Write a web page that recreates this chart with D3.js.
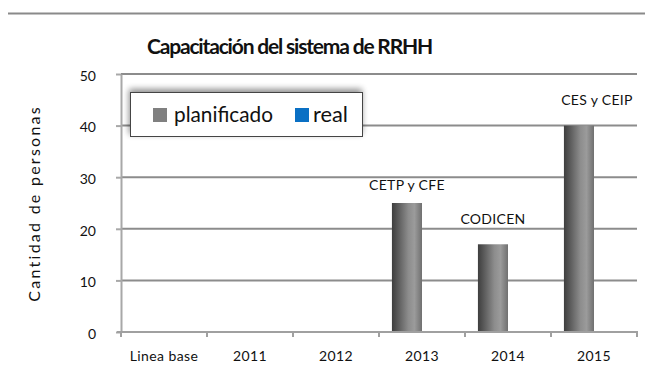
<!DOCTYPE html>
<html>
<head>
<meta charset="utf-8">
<script src="https://cdn.jsdelivr.net/npm/d3@7/dist/d3.min.js"></script>
<style>
  html, body { margin: 0; padding: 0; background: #fff; }
  svg { display: block; font-family: Lato, "Open Sans", sans-serif; }
</style>
</head>
<body>
<svg id="chart" width="645" height="381"></svg>
<script>
// Chart data
const categories = ["Linea base", "2011", "2012", "2013", "2014", "2015"];
const seriesNames = ["planificado", "real"];
const planificado = [0, 0, 0, 25, 17, 40];
const real = [0, 0, 0, 0, 0, 0];
const barLabels = ["", "", "", "CETP y CFE", "CODICEN", "CES y CEIP"];
const yTicks = [0, 10, 20, 30, 40, 50];
const titleText = "Capacitación del sistema de RRHH";
const yAxisTitle = "Cantidad de personas";

const svg = d3.select("#chart");
const W = 645, H = 381;
const plot = { left: 121, right: 637, top: 74, bottom: 332 };

// Adjust letter-spacing so a text node spans a given width
function fitSpacing(sel, target) {
  const node = sel.node();
  const n = sel.text().length;
  const w = node.getComputedTextLength();
  if (w > 0 && n > 1) sel.attr("letter-spacing", ((target - w) / n).toFixed(3));
}
// Scale font-size so a text node spans a given width
function fitSize(sel, target) {
  const node = sel.node();
  const fs = parseFloat(sel.attr("font-size"));
  const w = node.getComputedTextLength();
  if (w > 0) sel.attr("font-size", (fs * target / w).toFixed(2));
}

const defs = svg.append("defs");
const grad = defs.append("linearGradient").attr("id", "barGrad")
  .attr("x1", "0%").attr("x2", "100%").attr("y1", "0%").attr("y2", "0%");
[[0, "#3e3e3e"], [0.18, "#575757"], [0.55, "#8d8d8d"], [0.75, "#9b9b9b"], [1, "#707070"]]
  .forEach(([o, c]) => grad.append("stop").attr("offset", o).attr("stop-color", c));

const shadow = defs.append("filter").attr("id", "legendShadow")
  .attr("x", "-10%").attr("y", "-40%").attr("width", "120%").attr("height", "180%");
shadow.append("feGaussianBlur").attr("in", "SourceAlpha").attr("stdDeviation", 3).attr("result", "b");
shadow.append("feOffset").attr("in", "b").attr("dx", -1).attr("dy", -3).attr("result", "o");
shadow.append("feComponentTransfer").attr("in", "o").attr("result", "s")
  .append("feFuncA").attr("type", "linear").attr("slope", 0.45);
const fm = shadow.append("feMerge");
fm.append("feMergeNode").attr("in", "s");
fm.append("feMergeNode").attr("in", "SourceGraphic");

// Separator rule along the top
svg.append("line")
  .attr("x1", 8).attr("x2", W).attr("y1", 13.5).attr("y2", 13.5)
  .attr("stroke", "#8a8a8a").attr("stroke-width", 2);

// Title
const title = svg.append("text")
  .attr("x", 147).attr("y", 54)
  .attr("font-size", 21).attr("font-weight", "bold").attr("fill", "#111")
  .text(titleText);
fitSpacing(title, 285);

// Scales
const x0 = d3.scaleBand().domain(categories).range([plot.left, plot.right]).padding(0);
const x1 = d3.scaleBand().domain(seriesNames).range([0, x0.bandwidth()])
  .paddingInner(0).paddingOuter(0.43);
const y = d3.scaleLinear().domain([0, 50]).range([plot.bottom, plot.top]);

// Horizontal gridlines
svg.append("g").selectAll("line")
  .data(yTicks.filter(t => t > 0))
  .join("line")
  .attr("x1", plot.left).attr("x2", plot.right)
  .attr("y1", d => y(d)).attr("y2", d => y(d))
  .attr("stroke", "#8c8c8c").attr("stroke-width", 2);

// Y axis
const yAxis = svg.append("g")
  .attr("transform", `translate(${plot.left},0)`)
  .call(d3.axisLeft(y).tickValues(yTicks).tickSize(5).tickPadding(20).tickSizeOuter(0));
yAxis.select(".domain").attr("stroke", "#a8a8a8").attr("stroke-width", 2);
yAxis.selectAll(".tick line").attr("stroke", "#a8a8a8").attr("stroke-width", 2);
yAxis.selectAll(".tick text")
  .attr("font-family", "Lato, sans-serif").attr("font-size", 14).attr("fill", "#111")
  .attr("dy", "0.45em");

// Bars (grouped, one per series)
const seriesData = { planificado, real };
const groups = svg.append("g").selectAll("g")
  .data(categories)
  .join("g")
  .attr("transform", d => `translate(${x0(d)},0)`);
groups.selectAll("rect")
  .data((d, i) => seriesNames.map(s => ({ s, v: seriesData[s][i] })))
  .join("rect")
  .attr("x", d => x1(d.s))
  .attr("width", x1.bandwidth())
  .attr("y", d => y(d.v))
  .attr("height", d => plot.bottom - y(d.v))
  .attr("fill", d => d.s === "planificado" ? "url(#barGrad)" : "#0a70c4");

// X axis
const xAxis = svg.append("g")
  .attr("transform", `translate(0,${plot.bottom})`)
  .call(d3.axisBottom(x0).tickSize(0).tickPadding(0).tickSizeOuter(0));
xAxis.select(".domain").attr("stroke", "#a0a0a0").attr("stroke-width", 2)
  .attr("d", `M${plot.left - 4},0H${plot.right + 1}`);
xAxis.selectAll(".tick text")
  .attr("font-family", "Lato, sans-serif").attr("font-size", 14).attr("fill", "#111")
  .attr("y", 29).attr("dy", 0)
  .attr("letter-spacing", 0.4);
// Category boundary tick marks
xAxis.append("g").selectAll("line")
  .data(d3.range(categories.length + 1))
  .join("line")
  .attr("x1", i => plot.left + i * x0.step()).attr("x2", i => plot.left + i * x0.step())
  .attr("y1", 0).attr("y2", 5)
  .attr("stroke", "#a0a0a0").attr("stroke-width", 2);

// Bar annotations
const labelNudge = { "2013": [0, -13], "2014": [0, -20], "2015": [18, -21] };
svg.append("g").selectAll("text")
  .data(categories.map((c, i) => ({ c, v: planificado[i], t: barLabels[i] })).filter(d => d.t))
  .join("text")
  .attr("x", d => x0(d.c) + x1("planificado") + x1.bandwidth() / 2 + (labelNudge[d.c] || [0, 0])[0])
  .attr("y", d => y(d.v) + (labelNudge[d.c] || [0, -13])[1])
  .attr("text-anchor", "middle")
  .attr("font-size", 14).attr("fill", "#111")
  .attr("letter-spacing", 0.3)
  .text(d => d.t);

// Y axis title
const yt = svg.append("text")
  .attr("transform", "translate(40,105) rotate(-90)")
  .attr("text-anchor", "end")
  .attr("font-size", 16).attr("fill", "#111")
  .text(yAxisTitle);
fitSpacing(yt, 197);

// Legend
const legend = svg.append("g");
legend.append("rect")
  .attr("x", 130.5).attr("y", 92.5).attr("width", 232).attr("height", 44)
  .attr("fill", "#fff").attr("stroke", "#444").attr("stroke-width", 1)
  .attr("filter", "url(#legendShadow)");
const legendItems = [
  { name: "planificado", color: "#808080", sx: 153, tx: 174, tw: 99 },
  { name: "real", color: "#0a70c4", sx: 295, tx: 313, tw: 35 }
];
legendItems.forEach(it => {
  legend.append("rect")
    .attr("x", it.sx).attr("y", 108).attr("width", 14).attr("height", 14)
    .attr("fill", it.color);
  const t = legend.append("text")
    .attr("x", it.tx).attr("y", 121.5)
    .attr("font-size", 16).attr("fill", "#111")
    .text(it.name);
  fitSize(t, it.tw);
});
</script>
</body>
</html>
